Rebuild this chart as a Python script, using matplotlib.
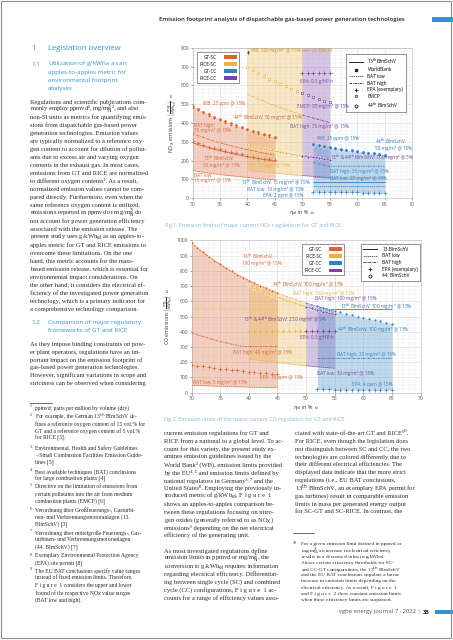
import numpy as np
import matplotlib.pyplot as plt
from matplotlib.lines import Line2D
from matplotlib.patches import Patch, Rectangle

W, H = 453, 640
SANS = ['Open Sans', 'DejaVu Sans']
SERIF = ['Liberation Serif', 'DejaVu Serif']

c_gtsc = '#dc6535'
c_ricesc = '#e9b445'
c_gtcc = '#3382c4'
c_ricecc = '#7b44a4'
c_head = '#2f93cf'
c_cap = '#8ab5d0'
c_txt = '#2a2a2a'

# --- Fig 1: NOx, mg/kWh_el ---
x_gtsc = [30, 31, 32, 33, 34, 35, 36, 37, 38, 39, 40, 41, 42, 43, 44, 45]
nox_gtsc_wb = [490, 475, 461, 447, 434, 422, 410, 399, 388, 378, 368, 359, 350, 342, 334, 326]
nox_gtsc_44 = [482, 467, 452, 439, 426, 414, 402, 391, 381, 371, 362, 353, 344, 336, 328, 321]
nox_gtsc_bathigh = [344, 333, 323, 313, 304, 295, 287, 279, 272, 265, 258, 252, 246, 240, 235, 229]
nox_gtsc_13 = [295, 285, 277, 268, 260, 253, 246, 239, 233, 227, 221, 216, 211, 206, 201, 197]
nox_gtsc_epa = [303, 293, 284, 275, 267, 260, 252, 246, 239, 233, 227, 222, 216, 211, 207, 202]
nox_gtsc_batlow = [148, 143, 138, 134, 130, 126, 123, 120, 117, 114, 111, 108, 105, 103, 101, 98]

x_ricesc = [40, 41, 42, 43, 44, 45, 46, 47, 48, 49, 50]
nox_ricesc_wb = [1475, 1439, 1405, 1372, 1341, 1311, 1283, 1255, 1229, 1204, 1180]
nox_ricesc_emcp = [700, 683, 667, 651, 636, 622, 609, 596, 583, 571, 560]
nox_ricesc_bathigh = [553, 540, 527, 515, 503, 492, 481, 471, 461, 452, 443]
nox_ricesc_13 = [282, 275, 269, 263, 257, 251, 246, 240, 235, 231, 226]
nox_ricesc_batlow = [150, 146, 143, 140, 137, 134, 131, 128, 126, 123, 121]

x_ricecc = [50, 51, 52, 53, 54, 55]
nox_ricecc_wb = [1180, 1157, 1135, 1113, 1093, 1073]
nox_ricecc_emcp = [560, 549, 538, 528, 518, 509]
nox_ricecc_epa = [663, 663, 663, 663, 663, 663]
nox_ricecc_bathigh = [443, 434, 426, 418, 410, 402]
nox_ricecc_13 = [226, 222, 218, 214, 210, 206]
nox_ricecc_batlow = [121, 119, 117, 114, 112, 110]

x_gtcc = [52, 53, 54, 55, 56, 57, 58, 59, 60, 61, 62, 63, 64, 65]
nox_gtcc_wb = [289, 284, 279, 274, 269, 264, 259, 255, 251, 247, 243, 239, 235, 231]
nox_gtcc_44 = [284, 278, 273, 268, 263, 259, 254, 250, 246, 242, 238, 234, 230, 227]
nox_gtcc_bathigh = [190, 183, 176, 170, 170, 170, 170, 170, 170, 170, 170, 170, 170, 170]
nox_gtcc_batlow2 = [113, 110, 108, 108, 108, 108, 108, 108, 108, 108, 108, 108, 108, 108]
nox_gtcc_13 = [89, 89, 89, 89, 89, 89, 89, 89, 89, 89, 89, 89, 89, 89]
nox_gtcc_batlow = [63, 63, 63, 63, 63, 63, 63, 63, 63, 63, 63, 63, 63, 63]
nox_gtcc_epa = [35, 34, 34, 33, 33, 32, 32, 31, 31, 30, 30, 29, 29, 28]

# --- Fig 2: CO, mg/kWh_el ---
co_gtsc_13 = [983, 951, 922, 894, 868, 843, 819, 797, 776, 756, 737, 719, 702, 686, 670, 655]
co_gtsc_bathigh = [393, 381, 369, 358, 347, 337, 328, 319, 311, 303, 303, 303, 303, 303, 303, 303]
co_gtsc_epa = [184, 178, 173, 168, 163, 158, 154, 150, 146, 142, 138, 135, 132, 129, 126, 123]
co_gtsc_batlow = [49, 48, 46, 45, 43, 42, 41, 40, 39, 38, 37, 36, 35, 34, 34, 33]

co_ricesc_bathigh = [737, 719, 702, 686, 670, 655, 641, 628, 615, 602, 590]
co_ricesc_13 = [706, 689, 673, 657, 642, 628, 614, 601, 588, 576, 565]
co_ricesc_epa = [407, 407, 407, 407, 407, 407, 407, 407, 407, 407, 407]
co_ricesc_batlow = [221, 216, 211, 206, 201, 197, 193, 189, 185, 181, 177]

co_ricecc_bathigh = [590, 578, 567, 557, 546, 536]
co_ricecc_13 = [565, 554, 543, 533, 523, 514]
co_ricecc_epa = [407, 407, 407, 407, 407, 407]
co_ricecc_batlow = [177, 174, 170, 167, 164, 161]

co_gtcc_44 = [567, 556, 546, 536, 527, 518, 509, 500, 492, 484, 476, 468, 461, 454]
co_gtcc_13 = [567, 556, 546, 546, 546, 546, 546, 546, 546, 546, 546, 546, 546, 546]
co_gtcc_bathigh = [228, 228, 228, 228, 228, 228, 228, 228, 228, 228, 228, 228, 228, 228]
co_gtcc_epa = [22, 22, 22, 21, 21, 21, 21, 20, 20, 20, 20, 20, 19, 19]

tech_labels = ['GT-SC', 'RICE-SC', 'GT-CC', 'RICE-CC']
tech_colors = [c_gtsc, c_ricesc, c_gtcc, c_ricecc]

plt.rcParams['font.family'] = SANS


def fx(x):
    return x / W


def fy(y):
    return 1 - y / H


fig = plt.figure(figsize=(W / 100, H / 100), dpi=100)


def draw(ax, x, y, color, kind):
    if kind == 'wb':
        ax.plot(x, y, 'o', color=color, ms=2.0, mew=0, zorder=4)
    elif kind == '44':
        ax.plot(x, y, 'h', color=color, ms=2.4, mew=0.4, mfc=color, mec='white', zorder=4)
    elif kind == 'emcp':
        ax.plot(x, y, 's', color=color, ms=1.9, mew=0.5, mfc='white', zorder=4)
    elif kind == 'epa':
        ax.plot(x, y, '+', color=color, ms=2.4, mew=0.5, zorder=4)
    elif kind == '13':
        ax.plot(x, y, '-', color=color, lw=0.6, zorder=3)
    elif kind == 'batlow':
        ax.plot(x, y, color=color, lw=0.5, ls=(0, (2, 1)), zorder=3)
    elif kind == 'bathigh':
        ax.plot(x, y, color=color, lw=0.6, ls=(0, (3, 1, 1, 1)), zorder=3)


def style_axes(ax, ymax, ystep_minor, ylabel):
    ax.set_xlim(30, 70)
    ax.set_ylim(0, ymax)
    ax.set_xticks(np.arange(30, 71, 5))
    ax.set_yticks(np.arange(0, ymax + 1, 100))
    ax.set_xticks(np.arange(30, 71, 1), minor=True)
    ax.set_yticks(np.arange(0, ymax + 1, ystep_minor), minor=True)
    ax.grid(which='minor', color='#e8e8e8', lw=0.3)
    ax.grid(which='major', color='#d6d6d6', lw=0.4)
    ax.set_axisbelow(True)
    ax.tick_params(which='major', labelsize=3.6, length=1.5, width=0.4,
                   colors='#555555', pad=1)
    ax.tick_params(which='minor', length=0)
    for s in ax.spines.values():
        s.set_color('#b0b0b0')
        s.set_linewidth(0.4)
    ax.set_ylabel(ylabel + '  ⟶', fontsize=3.8, color='#333333', labelpad=2)
    ax.set_xlabel(r'$\eta_{\mathrm{el}}$ in %  ⟶', fontsize=3.8, color='#333333', labelpad=1)


def legends(ax, loc1, loc2, items2):
    h1 = [Patch(facecolor=c, edgecolor='none') for c in tech_colors]
    l1 = ax.legend(h1, tech_labels, loc='upper left', bbox_to_anchor=loc1,
                   fontsize=3.4, frameon=True, fancybox=False, edgecolor='#444444',
                   framealpha=1, markerfirst=False, handlelength=2.6, handleheight=0.9,
                   borderpad=0.5, labelspacing=0.45, handletextpad=1.6)
    l1.get_frame().set_linewidth(0.4)
    ax.add_artist(l1)
    h2, t2 = [], []
    for kind, txt in items2:
        if kind == '13':
            h2.append(Line2D([], [], color='#222222', lw=0.7))
        elif kind == 'wb':
            h2.append(Line2D([], [], color='#222222', marker='s', ms=1.5, ls='none'))
        elif kind == 'batlow':
            h2.append(Line2D([], [], color='#222222', lw=0.5, ls=(0, (2, 1))))
        elif kind == 'bathigh':
            h2.append(Line2D([], [], color='#222222', lw=0.6, ls=(0, (3, 1, 1, 1))))
        elif kind == 'epa':
            h2.append(Line2D([], [], color='#222222', marker='+', ms=2.4, mew=0.6, ls='none'))
        elif kind == 'emcp':
            h2.append(Line2D([], [], color='#222222', marker='s', ms=1.9, mew=0.5,
                             mfc='white', ls='none'))
        elif kind == '44':
            h2.append(Line2D([], [], color='#222222', marker='h', ms=2.4, mew=0.6,
                             mfc='white', ls='none'))
        t2.append(txt)
    l2 = ax.legend(h2, t2, loc='upper right', bbox_to_anchor=loc2, fontsize=3.4,
                   frameon=True, fancybox=False, edgecolor='#444444', framealpha=1,
                   handlelength=3.0, borderpad=0.5, labelspacing=0.35, handletextpad=1.0)
    l2.get_frame().set_linewidth(0.4)


def note(ax, x, y, s, color, **kw):
    ax.text(x, y, s, fontsize=3.3, color=color, va='center', zorder=6, **kw)


# ---------- Fig. 1 ----------
ax1 = fig.add_axes([fx(192.5), fy(198.3), (412 - 192.5) / W, (198.3 - 47.7) / H])
ax1.fill_between(x_gtsc, nox_gtsc_wb, nox_gtsc_batlow, color=c_gtsc, alpha=0.3, lw=0)
ax1.fill_between(x_ricesc, nox_ricesc_wb, nox_ricesc_batlow, color=c_ricesc, alpha=0.3, lw=0)
ax1.fill_between(x_ricecc, nox_ricecc_wb, nox_ricecc_batlow, color=c_ricecc, alpha=0.3, lw=0)
ax1.fill_between(x_gtcc, nox_gtcc_wb, nox_gtcc_epa, color=c_gtcc, alpha=0.3, lw=0)

draw(ax1, x_gtsc, nox_gtsc_bathigh, c_gtsc, 'bathigh')
draw(ax1, x_gtsc, nox_gtsc_13, c_gtsc, '13')
draw(ax1, x_gtsc, nox_gtsc_batlow, c_gtsc, 'batlow')
draw(ax1, x_gtsc, nox_gtsc_epa, c_gtsc, 'epa')
draw(ax1, x_gtsc, nox_gtsc_44, c_gtsc, '44')
draw(ax1, x_gtsc, nox_gtsc_wb, c_gtsc, 'wb')

draw(ax1, x_ricesc, nox_ricesc_bathigh, c_ricesc, 'bathigh')
draw(ax1, x_ricesc, nox_ricesc_batlow, c_ricesc, 'batlow')
draw(ax1, x_ricesc, nox_ricesc_13, c_ricesc, '13')
draw(ax1, x_ricesc, nox_ricesc_13, c_ricesc, '44')
draw(ax1, x_ricesc, nox_ricesc_emcp, c_ricesc, 'emcp')

draw(ax1, x_ricecc, nox_ricecc_bathigh, c_ricecc, 'bathigh')
draw(ax1, x_ricecc, nox_ricecc_batlow, c_ricecc, 'batlow')
draw(ax1, x_ricecc, nox_ricecc_13, c_ricecc, '13')
draw(ax1, x_ricecc, nox_ricecc_13, c_ricecc, '44')
draw(ax1, x_ricecc, nox_ricecc_emcp, c_ricecc, 'emcp')
draw(ax1, x_ricecc, nox_ricecc_epa, c_ricecc, 'epa')

draw(ax1, x_gtcc, nox_gtcc_bathigh, c_gtcc, 'bathigh')
draw(ax1, x_gtcc, nox_gtcc_batlow2, c_gtcc, 'batlow')
draw(ax1, x_gtcc, nox_gtcc_13, c_gtcc, '13')
draw(ax1, x_gtcc, nox_gtcc_batlow, c_gtcc, 'batlow')
draw(ax1, x_gtcc, nox_gtcc_epa, c_gtcc, 'epa')
draw(ax1, x_gtcc, nox_gtcc_44, c_gtcc, '44')
draw(ax1, x_gtcc, nox_gtcc_wb, c_gtcc, 'wb')

ax1.annotate('', xy=(40.2, 800), xytext=(40.2, 748),
             arrowprops=dict(arrowstyle='-|>', lw=0.5, color='#444444', mutation_scale=3))
note(ax1, 40.6, 785, 'WB: 200 mg/m³ @ 15% (→ > 2x EMCP)', '#c9962a')
note(ax1, 49.6, 622, 'EPA: 0.5 g/hP-h', c_ricecc)
note(ax1, 49.0, 486, 'EMCP: 95 mg/m³ @ 15%', c_ricecc)
note(ax1, 31.9, 506, 'WB: 25 ppm @ 15%', c_gtsc)
note(ax1, 37.4, 426, r'44$^{\rm th}$ BImSchV: 50 mg/m³ @ 15%', '#c0652c')
note(ax1, 47.8, 380, 'BAT high: 75 mg/m³ @ 15%', c_ricecc)
note(ax1, 30.2, 376, 'BAT high:\n35 mg/m³ @ 15%', c_gtsc, linespacing=1.0)
note(ax1, 31.9, 200, '13$^{\\rm th}$ BImSchV:\n30 mg/m³ @ 15%', c_gtsc, linespacing=1.0)
note(ax1, 39.9, 174, 'EPA: 15 ppm @ 15%', c_ricesc)
note(ax1, 52.7, 320, 'WB: 25 ppm @ 15%', c_gtcc)
note(ax1, 63.2, 291, '44$^{\\rm th}$ BImSchV:\n50 mg/m³ @ 15%', c_gtcc, linespacing=1.0)
note(ax1, 55.0, 214, '13$^{\\rm th}$ & 44$^{\\rm th}$ BImSchV: 100 mg/m³ @ 5%', c_ricecc)
note(ax1, 55.0, 141, 'BAT high: 35 mg/m³ @ 15%', c_gtcc)
note(ax1, 55.0, 107, 'BAT low: 20 mg/m³ @ 15%', c_gtcc)
note(ax1, 30.2, 106, 'BAT low:\n15 mg/m³ @ 15%', c_gtsc, linespacing=1.0)
note(ax1, 38.9, 82, '13$^{\\rm th}$ BImSchV: 15 mg/m³ @ 15%', c_gtcc)
note(ax1, 40.0, 48, 'BAT low: 10 mg/m³ @ 15%', c_gtcc)
note(ax1, 42.8, 17, 'EPA: 2 ppm @ 15%', c_gtcc)

style_axes(ax1, 800, 20, r'NO$_{\mathrm{X}}$ emissions $\left[\frac{\mathrm{mg}}{\mathrm{kWh_{el}}}\right]$')
legends(ax1, (0.011, 0.985), (0.982, 0.973),
        [('13', r'13$^{\rm th}$BImSchV'), ('wb', 'WorldBank'), ('batlow', 'BAT low'),
         ('bathigh', 'BAT high'), ('epa', 'EPA (exemplary)'), ('emcp', 'EMCP'),
         ('44', r'44$^{\rm th}$ BImSchV')])

# ---------- Fig. 2 ----------
ax2 = fig.add_axes([fx(191.5), fy(392.7), (420.5 - 191.5) / W, (392.7 - 240.5) / H])
ax2.fill_between(x_gtsc, co_gtsc_13, co_gtsc_batlow, color=c_gtsc, alpha=0.3, lw=0)
ax2.fill_between(x_ricesc, co_ricesc_bathigh, co_ricesc_batlow, color=c_ricesc, alpha=0.3, lw=0)
ax2.fill_between(x_ricecc, co_ricecc_bathigh, co_ricecc_batlow, color=c_ricecc, alpha=0.3, lw=0)
ax2.fill_between(x_gtcc, co_gtcc_44, co_gtcc_epa, color=c_gtcc, alpha=0.3, lw=0)

draw(ax2, x_gtsc, co_gtsc_13, c_gtsc, '13')
draw(ax2, x_gtsc, co_gtsc_13, c_gtsc, '44')
draw(ax2, x_gtsc, co_gtsc_bathigh, c_gtsc, 'bathigh')
draw(ax2, x_gtsc, co_gtsc_epa, c_gtsc, 'epa')
draw(ax2, x_gtsc, co_gtsc_batlow, c_gtsc, 'batlow')

draw(ax2, x_ricesc, co_ricesc_bathigh, c_ricesc, 'bathigh')
draw(ax2, x_ricesc, co_ricesc_13, c_ricesc, '13')
draw(ax2, x_ricesc, co_ricesc_13, c_ricesc, '44')
draw(ax2, x_ricesc, co_ricesc_epa, c_ricesc, 'epa')
draw(ax2, x_ricesc, co_ricesc_batlow, c_ricesc, 'batlow')

draw(ax2, x_ricecc, co_ricecc_bathigh, c_ricecc, 'bathigh')
draw(ax2, x_ricecc, co_ricecc_13, c_ricecc, '13')
draw(ax2, x_ricecc, co_ricecc_13, c_ricecc, '44')
draw(ax2, x_ricecc, co_ricecc_epa, c_ricecc, 'epa')
draw(ax2, x_ricecc, co_ricecc_batlow, c_ricecc, 'batlow')

draw(ax2, x_gtcc, co_gtcc_13, c_gtcc, '13')
draw(ax2, x_gtcc, co_gtcc_44, c_gtcc, '44')
draw(ax2, x_gtcc, co_gtcc_bathigh, c_gtcc, 'bathigh')
draw(ax2, x_gtcc, co_gtcc_epa, c_gtcc, 'epa')

note(ax2, 38.8, 880, '13$^{\\rm th}$ BImSchV:\n100 mg/m³ @ 15%', c_gtsc, linespacing=1.0)
note(ax2, 44.0, 707, '44$^{\\rm th}$ BImSchV: 100 mg/m³ @ 15%', '#c0652c')
note(ax2, 47.7, 655, 'BAT high: 100 mg/m³ @ 15%', c_ricesc)
note(ax2, 51.6, 616, 'BAT high: 100 mg/m³ @ 15%', c_ricecc)
note(ax2, 55.9, 563, '13$^{\\rm th}$ BImSchV: 100 mg/m³ @ 15%', c_gtcc)
note(ax2, 30.2, 543, '13$^{\\rm th}$ & 44$^{\\rm th}$ BImSchV: 250 mg/m³ @ 5%', '#e8c77a')
note(ax2, 39.0, 478, '13$^{\\rm th}$ & 44$^{\\rm th}$ BImSchV: 250 mg/m³ @ 5%', c_ricecc)
note(ax2, 55.4, 412, '44$^{\\rm th}$ BImSchV: 100 mg/m³ @ 15%', c_gtcc)
note(ax2, 49.0, 360, 'EPA: 0.3 g/HP-h', c_ricecc)
note(ax2, 37.2, 267, 'BAT high: 40 mg/m³ @ 15%', c_gtsc)
note(ax2, 55.4, 254, 'BAT high: 30 mg/m³ @ 15%', c_gtcc)
note(ax2, 51.9, 129, 'BAT low: 30 mg/m³ @ 15%', c_ricecc)
note(ax2, 42.0, 97, 'EPA: 15 ppm @ 15%', c_gtsc)
note(ax2, 30.3, 70, 'BAT low: 5 mg/m³ @ 15%', c_gtsc)
note(ax2, 58.0, 51, 'EPA: 4 ppm @ 15%', c_gtcc)

style_axes(ax2, 1000, 25, r'CO emissions $\left[\frac{\mathrm{mg}}{\mathrm{kWh_{el}}}\right]$')
legends(ax2, (0.474, 0.99), (1.01, 0.99),
        [('13', '13.BImSchV'), ('batlow', 'BAT low'), ('bathigh', 'BAT high'),
         ('epa', 'EPA (exemplary)'), ('44', '44. BImSchV')])

# ---------- page text ----------
def t(x, y, s, size=4.7, family=SERIF, color=c_txt, **kw):
    fig.text(fx(x), fy(y), s, fontsize=size, family=family, color=color, va='center', **kw)


t(282, 19, 'Emission footprint analysis of dispatchable gas-based power generation technologies',
  size=4.3, family=SANS, color='#1e1e1e', weight='semibold', ha='center')
fig.add_artist(Rectangle((fx(432), fy(21.5)), fx(21), 4.5 / H, color=c_head, lw=0))

t(31.7, 48.3, '1', size=5.6, family=SANS, color=c_head)
t(48, 48.3, 'Legislation overview', size=5.6, family=SANS, color=c_head)
t(31.7, 64, '1.1', size=4.5, family=SANS, color=c_head)
for i, s in enumerate([r'Utilization of g/kWh$_{\rm el}$ as an', 'apples-to-apples metric for',
                       'environmental footprint', 'analyses']):
    t(48, 64 + i * 8.3, s, size=4.5, family=SANS, color=c_head)

body_11 = [
    "Regulations and scientific publications com-",
    "monly employ ppmvd¹, mg/m$_{\\rm N}^{3}$², and also",
    "non-SI units as metrics for quantifying emis-",
    "sions from dispatchable gas-based power",
    "generation technologies. Emission values",
    "are typically normalized to a reference oxy-",
    "gen content to account for dilution of pollut-",
    "ants due to excess air and varying oxygen",
    "contents in the exhaust gas. In most cases,",
    "emissions from GT and RICE are normalized",
    "to different oxygen contents². As a result,",
    "normalized emission values cannot be com-",
    "pared directly. Furthermore, even when the",
    "same reference oxygen content is utilized,",
    "emissions reported in ppmvd or mg/m$_{\\rm N}^{3}$ do",
    "not account for power generation efficiency",
    "associated with the emission release. The",
    "present study uses g/kWh$_{\\rm el}$ as an apples-to-",
    "apples metric for GT and RICE emissions to",
    "overcome these limitations. On the one",
    "hand, this metric accounts for the mass-",
    "based emission release, which is essential for",
    "environmental impact considerations. On",
    "the other hand, it considers the electrical ef-",
    "ficiency of the investigated power generation",
    "technology, which is a primary indicator for",
    "a comprehensive technology comparison.",
]
for i, s in enumerate(body_11):
    t(30, 101.7 + i * 7.98, s)

t(31.7, 322.7, '1.2', size=4.5, family=SANS, color=c_head)
t(48, 322.7, 'Comparison of major regulatory', size=4.5, family=SANS, color=c_head)
t(48, 331, 'frameworks of GT and RICE', size=4.5, family=SANS, color=c_head)

body_12 = [
    "As they impose binding constraints on pow-",
    "er plant operators, regulations have an im-",
    "portant impact on the emission footprint of",
    "gas-based power generation technologies.",
    "However, significant variations in scope and",
    "strictness can be observed when considering",
]
for i, s in enumerate(body_12):
    t(30, 344.3 + i * 7.8, s)

fig.add_artist(Line2D([fx(30), fx(52)], [fy(403), fy(403)], color='#333333', lw=0.5))
footnotes = [
    ('1', ["ppmvd: parts per million by volume (dry)"], 407.7),
    ('2', ["For example, the German 13$^{\\rm th}$ BImSchV de-",
           "fines a reference oxygen content of 15 vol.% for",
           "GT and a reference oxygen content of 5 vol.%", "for RICE [3]."], 416.7),
    ('3', ["Environmental, Health and Safety Guidelines",
           "– Small Combustion Facilities Emission Guide-", "lines [5]"], 448.3),
    ('4', ["Best available techniques (BAT) conclusions",
           "for large combustion plants [4]"], 471.7),
    ('5', ["Directive on the limitation of emissions from",
           "certain pollutants into the air from medium", "combustion plants (EMCP) [6]"], 486.7),
    ('6', ["Verordnung über Großfeuerungs-, Gasturbi-",
           "nen- und Verbrennungsmotoranlagen (13.", "BImSchV) [3]"], 510),
    ('7', ["Verordnung über mittelgroße Feuerungs-, Gas-",
           "turbinen- und Verbrennungsmotoranlagen", "(44. BImSchV) [7]"], 532.7),
    ('8', ["Exemplary Environmental Protection Agency", "(EPA) site permit [8]"], 556),
    ('9', ["The EU BAT conclusions specify value ranges",
           "instead of fixed emission limits. Therefore,",
           "F i g u r e  1 considers the upper and lower",
           "bound of the respective NO$_{\\rm X}$ value ranges", "(BAT low and high)."], 571),
]
for num, lines, y0 in footnotes:
    t(30, y0 - 1.5, num, size=2.9)
    for i, s in enumerate(lines):
        t(35, y0 + i * 7.2, s, size=4.1)

body_m1 = [
    "current emission regulations for GT and",
    "RICE from a national to a global level. To ac-",
    "count for this variety, the present study ex-",
    "amines emission guidelines issued by the",
    "World Bank³ (WB), emission limits provided",
    "by the EU⁴˒⁵ and emission limits defined by",
    "national regulators in Germany⁶˒⁷ and the",
    "United States⁸. Employing the previously in-",
    "troduced metric of g/kWh$_{\\rm el}$, F i g u r e  1",
    "shows an apples-to-apples comparison be-",
    "tween these regulations focusing on nitro-",
    "gen oxides (generally referred to as NO$_{\\rm X}$)",
    "emissions⁹ depending on the net electrical",
    "efficiency of the generating unit.",
]
for i, s in enumerate(body_m1):
    t(164.3, 433.3 + i * 7.87, s)

body_m2 = [
    "As most investigated regulations define",
    "emission limits in ppmvd or mg/m$_{\\rm N}^{3}$, the",
    "conversion to g/kWh$_{\\rm el}$ requires information",
    "regarding electrical efficiency. Differentiat-",
    "ing between single cycle (SC) and combined",
    "cycle (CC) configurations, F i g u r e  1 ac-",
    "counts for a range of efficiency values asso-",
]
for i, s in enumerate(body_m2):
    t(164.3, 550.7 + i * 7.87, s)

body_r = [
    "ciated with state-of-the-art GT and RICE¹⁰.",
    "For RICE, even though the legislation does",
    "not distinguish between SC and CC, the two",
    "technologies are colored differently due to",
    "their different electrical efficiencies. The",
    "displayed data indicate that the more strict",
    "regulations (i.e., EU BAT conclusions,",
    "13$^{\\rm th}$ BImSchV, an exemplary EPA permit for",
    "gas turbines) result in comparable emission",
    "limits in mass per generated energy output",
    "for SC-GT and SC-RICE. In contrast, the",
]
for i, s in enumerate(body_r):
    t(295, 433.3 + i * 7.87, s)

fig.add_artist(Line2D([fx(293), fx(314)], [fy(533), fy(533)], color='#333333', lw=0.5))
fn10 = [
    "For a given emission limit defined in ppmvd or",
    "mg/m$_{\\rm N}^{3}$, an increase in electrical efficiency",
    "results in a decreased value in g/kWh$_{\\rm el}$.",
    "Above certain efficiency thresholds for SC-",
    "and CC-GT configurations, the 13$^{\\rm th}$ BImSchV",
    "and the EU BAT conclusions stipulate a linear",
    "increase in emission limits depending on the",
    "electrical efficiency. As a result, F i g u r e  1",
    "and F i g u r e  2 show constant emission limits",
    "when these efficiency limits are surpassed.",
]
t(292.5, 542.5, '10', size=2.9)
for i, s in enumerate(fn10):
    t(301, 544.3 + i * 6.19, s, size=3.8)

t(164, 225, 'Fig.1. Emission limits of major current NO$_{\\rm X}$ regulations for GT and RICE.',
  size=3.9, family=SANS, color=c_cap)
t(164, 419.3, 'Fig.2. Emission limits of the major current CO regulation for GT and RICE.',
  size=3.9, family=SANS, color=c_cap)

t(421, 612, 'vgbe energy journal 7 · 2022 |', size=4.2, family=SANS, color='#555555', ha='right')
t(423, 612, '33', size=4.2, family=SANS, color='#222222', weight='bold')
fig.add_artist(Rectangle((fx(435), fy(614)), fx(18), 4 / H, color=c_head, lw=0))

fig.add_artist(Rectangle((fx(0.8), fy(637.5)), fx(450.5), 636.5 / H, fill=False,
                         edgecolor='#8c8c8c', lw=0.8))

fig.savefig('out.png', dpi=100)
